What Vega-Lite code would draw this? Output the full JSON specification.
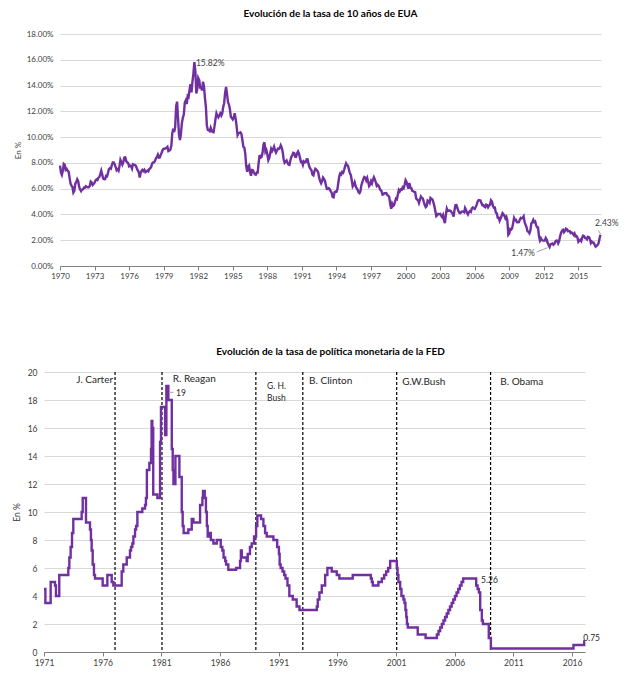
{
  "$schema": "https://vega.github.io/schema/vega-lite/v6.json",
  "padding": {"left": 12, "top": 9, "right": 5, "bottom": 5},
  "config": {"font": "Lato", "view": {"stroke": null}},
  "columns": 1,
  "spacing": 67,
  "datasets": {
    "t10": [
{"d":"1970-01","v":7.79},{"d":"1970-02","v":7.24},{"d":"1970-03","v":7.07},{"d":"1970-04","v":7.39},{"d":"1970-05","v":7.91},{"d":"1970-06","v":7.84},{"d":"1970-07","v":7.46},{"d":"1970-08","v":7.53},{"d":"1970-09","v":7.39},{"d":"1970-10","v":7.33},{"d":"1970-11","v":6.84},{"d":"1970-12","v":6.39},
{"d":"1971-01","v":6.24},{"d":"1971-02","v":6.11},{"d":"1971-03","v":5.70},{"d":"1971-04","v":5.83},{"d":"1971-05","v":6.39},{"d":"1971-06","v":6.52},{"d":"1971-07","v":6.73},{"d":"1971-08","v":6.58},{"d":"1971-09","v":6.14},{"d":"1971-10","v":5.93},{"d":"1971-11","v":5.81},{"d":"1971-12","v":5.93},
{"d":"1972-01","v":5.95},{"d":"1972-02","v":6.08},{"d":"1972-03","v":6.07},{"d":"1972-04","v":6.19},{"d":"1972-05","v":6.13},{"d":"1972-06","v":6.11},{"d":"1972-07","v":6.11},{"d":"1972-08","v":6.21},{"d":"1972-09","v":6.55},{"d":"1972-10","v":6.48},{"d":"1972-11","v":6.28},{"d":"1972-12","v":6.36},
{"d":"1973-01","v":6.46},{"d":"1973-02","v":6.64},{"d":"1973-03","v":6.71},{"d":"1973-04","v":6.67},{"d":"1973-05","v":6.85},{"d":"1973-06","v":6.90},{"d":"1973-07","v":7.13},{"d":"1973-08","v":7.40},{"d":"1973-09","v":7.09},{"d":"1973-10","v":6.79},{"d":"1973-11","v":6.73},{"d":"1973-12","v":6.74},
{"d":"1974-01","v":6.99},{"d":"1974-02","v":6.96},{"d":"1974-03","v":7.21},{"d":"1974-04","v":7.51},{"d":"1974-05","v":7.58},{"d":"1974-06","v":7.54},{"d":"1974-07","v":7.81},{"d":"1974-08","v":8.04},{"d":"1974-09","v":8.04},{"d":"1974-10","v":7.90},{"d":"1974-11","v":7.68},{"d":"1974-12","v":7.43},
{"d":"1975-01","v":7.50},{"d":"1975-02","v":7.39},{"d":"1975-03","v":7.73},{"d":"1975-04","v":8.23},{"d":"1975-05","v":8.06},{"d":"1975-06","v":7.86},{"d":"1975-07","v":8.06},{"d":"1975-08","v":8.40},{"d":"1975-09","v":8.43},{"d":"1975-10","v":8.14},{"d":"1975-11","v":8.05},{"d":"1975-12","v":8.00},
{"d":"1976-01","v":7.74},{"d":"1976-02","v":7.79},{"d":"1976-03","v":7.73},{"d":"1976-04","v":7.56},{"d":"1976-05","v":7.90},{"d":"1976-06","v":7.86},{"d":"1976-07","v":7.83},{"d":"1976-08","v":7.77},{"d":"1976-09","v":7.59},{"d":"1976-10","v":7.41},{"d":"1976-11","v":7.29},{"d":"1976-12","v":6.87},
{"d":"1977-01","v":7.21},{"d":"1977-02","v":7.39},{"d":"1977-03","v":7.46},{"d":"1977-04","v":7.37},{"d":"1977-05","v":7.46},{"d":"1977-06","v":7.28},{"d":"1977-07","v":7.33},{"d":"1977-08","v":7.40},{"d":"1977-09","v":7.34},{"d":"1977-10","v":7.52},{"d":"1977-11","v":7.58},{"d":"1977-12","v":7.69},
{"d":"1978-01","v":7.96},{"d":"1978-02","v":8.03},{"d":"1978-03","v":8.04},{"d":"1978-04","v":8.15},{"d":"1978-05","v":8.35},{"d":"1978-06","v":8.46},{"d":"1978-07","v":8.64},{"d":"1978-08","v":8.41},{"d":"1978-09","v":8.42},{"d":"1978-10","v":8.64},{"d":"1978-11","v":8.81},{"d":"1978-12","v":9.01},
{"d":"1979-01","v":9.10},{"d":"1979-02","v":9.10},{"d":"1979-03","v":9.12},{"d":"1979-04","v":9.18},{"d":"1979-05","v":9.25},{"d":"1979-06","v":8.91},{"d":"1979-07","v":8.95},{"d":"1979-08","v":9.03},{"d":"1979-09","v":9.33},{"d":"1979-10","v":10.30},{"d":"1979-11","v":10.65},{"d":"1979-12","v":10.39},
{"d":"1980-01","v":10.80},{"d":"1980-02","v":12.41},{"d":"1980-03","v":12.75},{"d":"1980-04","v":11.47},{"d":"1980-05","v":10.18},{"d":"1980-06","v":9.78},{"d":"1980-07","v":10.25},{"d":"1980-08","v":11.10},{"d":"1980-09","v":11.51},{"d":"1980-10","v":11.75},{"d":"1980-11","v":12.68},{"d":"1980-12","v":12.84},
{"d":"1981-01","v":12.57},{"d":"1981-02","v":13.19},{"d":"1981-03","v":13.12},{"d":"1981-04","v":13.68},{"d":"1981-05","v":14.10},{"d":"1981-06","v":13.47},{"d":"1981-07","v":14.28},{"d":"1981-08","v":14.94},{"d":"1981-09","v":15.82},{"d":"1981-10","v":15.15},{"d":"1981-11","v":13.39},{"d":"1981-12","v":13.72},
{"d":"1982-01","v":14.59},{"d":"1982-02","v":14.43},{"d":"1982-03","v":13.86},{"d":"1982-04","v":13.87},{"d":"1982-05","v":13.62},{"d":"1982-06","v":14.30},{"d":"1982-07","v":13.95},{"d":"1982-08","v":13.06},{"d":"1982-09","v":12.34},{"d":"1982-10","v":10.91},{"d":"1982-11","v":10.55},{"d":"1982-12","v":10.54},
{"d":"1983-01","v":10.46},{"d":"1983-02","v":10.72},{"d":"1983-03","v":10.51},{"d":"1983-04","v":10.40},{"d":"1983-05","v":10.38},{"d":"1983-06","v":10.85},{"d":"1983-07","v":11.38},{"d":"1983-08","v":11.85},{"d":"1983-09","v":11.65},{"d":"1983-10","v":11.54},{"d":"1983-11","v":11.69},{"d":"1983-12","v":11.83},
{"d":"1984-01","v":11.67},{"d":"1984-02","v":11.84},{"d":"1984-03","v":12.32},{"d":"1984-04","v":12.63},{"d":"1984-05","v":13.41},{"d":"1984-06","v":13.90},{"d":"1984-07","v":13.36},{"d":"1984-08","v":12.72},{"d":"1984-09","v":12.52},{"d":"1984-10","v":12.16},{"d":"1984-11","v":11.57},{"d":"1984-12","v":11.50},
{"d":"1985-01","v":11.38},{"d":"1985-02","v":11.51},{"d":"1985-03","v":11.86},{"d":"1985-04","v":11.43},{"d":"1985-05","v":10.85},{"d":"1985-06","v":10.16},{"d":"1985-07","v":10.31},{"d":"1985-08","v":10.33},{"d":"1985-09","v":10.37},{"d":"1985-10","v":10.24},{"d":"1985-11","v":9.78},{"d":"1985-12","v":9.26},
{"d":"1986-01","v":9.19},{"d":"1986-02","v":8.70},{"d":"1986-03","v":7.78},{"d":"1986-04","v":7.30},{"d":"1986-05","v":7.71},{"d":"1986-06","v":7.80},{"d":"1986-07","v":7.30},{"d":"1986-08","v":7.00},{"d":"1986-09","v":7.45},{"d":"1986-10","v":7.43},{"d":"1986-11","v":7.25},{"d":"1986-12","v":7.11},
{"d":"1987-01","v":7.08},{"d":"1987-02","v":7.25},{"d":"1987-03","v":7.25},{"d":"1987-04","v":8.02},{"d":"1987-05","v":8.61},{"d":"1987-06","v":8.40},{"d":"1987-07","v":8.45},{"d":"1987-08","v":8.76},{"d":"1987-09","v":9.42},{"d":"1987-10","v":9.60},{"d":"1987-11","v":8.86},{"d":"1987-12","v":8.99},
{"d":"1988-01","v":8.67},{"d":"1988-02","v":8.21},{"d":"1988-03","v":8.37},{"d":"1988-04","v":8.72},{"d":"1988-05","v":9.09},{"d":"1988-06","v":8.92},{"d":"1988-07","v":9.06},{"d":"1988-08","v":9.26},{"d":"1988-09","v":8.98},{"d":"1988-10","v":8.80},{"d":"1988-11","v":8.96},{"d":"1988-12","v":9.11},
{"d":"1989-01","v":9.09},{"d":"1989-02","v":9.17},{"d":"1989-03","v":9.36},{"d":"1989-04","v":9.18},{"d":"1989-05","v":8.86},{"d":"1989-06","v":8.28},{"d":"1989-07","v":8.02},{"d":"1989-08","v":8.11},{"d":"1989-09","v":8.19},{"d":"1989-10","v":8.01},{"d":"1989-11","v":7.87},{"d":"1989-12","v":7.84},
{"d":"1990-01","v":8.21},{"d":"1990-02","v":8.47},{"d":"1990-03","v":8.59},{"d":"1990-04","v":8.79},{"d":"1990-05","v":8.76},{"d":"1990-06","v":8.48},{"d":"1990-07","v":8.47},{"d":"1990-08","v":8.75},{"d":"1990-09","v":8.89},{"d":"1990-10","v":8.72},{"d":"1990-11","v":8.39},{"d":"1990-12","v":8.08},
{"d":"1991-01","v":8.09},{"d":"1991-02","v":7.85},{"d":"1991-03","v":8.11},{"d":"1991-04","v":8.04},{"d":"1991-05","v":8.07},{"d":"1991-06","v":8.28},{"d":"1991-07","v":8.27},{"d":"1991-08","v":7.90},{"d":"1991-09","v":7.65},{"d":"1991-10","v":7.53},{"d":"1991-11","v":7.42},{"d":"1991-12","v":7.09},
{"d":"1992-01","v":7.03},{"d":"1992-02","v":7.34},{"d":"1992-03","v":7.54},{"d":"1992-04","v":7.48},{"d":"1992-05","v":7.39},{"d":"1992-06","v":7.26},{"d":"1992-07","v":6.84},{"d":"1992-08","v":6.59},{"d":"1992-09","v":6.42},{"d":"1992-10","v":6.59},{"d":"1992-11","v":6.87},{"d":"1992-12","v":6.77},
{"d":"1993-01","v":6.60},{"d":"1993-02","v":6.26},{"d":"1993-03","v":5.98},{"d":"1993-04","v":5.97},{"d":"1993-05","v":6.04},{"d":"1993-06","v":5.96},{"d":"1993-07","v":5.81},{"d":"1993-08","v":5.68},{"d":"1993-09","v":5.36},{"d":"1993-10","v":5.33},{"d":"1993-11","v":5.72},{"d":"1993-12","v":5.77},
{"d":"1994-01","v":5.75},{"d":"1994-02","v":5.97},{"d":"1994-03","v":6.48},{"d":"1994-04","v":6.97},{"d":"1994-05","v":7.18},{"d":"1994-06","v":7.10},{"d":"1994-07","v":7.30},{"d":"1994-08","v":7.24},{"d":"1994-09","v":7.46},{"d":"1994-10","v":7.74},{"d":"1994-11","v":7.96},{"d":"1994-12","v":7.81},
{"d":"1995-01","v":7.78},{"d":"1995-02","v":7.47},{"d":"1995-03","v":7.20},{"d":"1995-04","v":7.06},{"d":"1995-05","v":6.63},{"d":"1995-06","v":6.17},{"d":"1995-07","v":6.28},{"d":"1995-08","v":6.49},{"d":"1995-09","v":6.20},{"d":"1995-10","v":6.04},{"d":"1995-11","v":5.93},{"d":"1995-12","v":5.71},
{"d":"1996-01","v":5.65},{"d":"1996-02","v":5.81},{"d":"1996-03","v":6.27},{"d":"1996-04","v":6.51},{"d":"1996-05","v":6.74},{"d":"1996-06","v":6.91},{"d":"1996-07","v":6.87},{"d":"1996-08","v":6.64},{"d":"1996-09","v":6.83},{"d":"1996-10","v":6.53},{"d":"1996-11","v":6.20},{"d":"1996-12","v":6.30},
{"d":"1997-01","v":6.58},{"d":"1997-02","v":6.42},{"d":"1997-03","v":6.69},{"d":"1997-04","v":6.89},{"d":"1997-05","v":6.71},{"d":"1997-06","v":6.49},{"d":"1997-07","v":6.22},{"d":"1997-08","v":6.30},{"d":"1997-09","v":6.21},{"d":"1997-10","v":6.03},{"d":"1997-11","v":5.88},{"d":"1997-12","v":5.81},
{"d":"1998-01","v":5.54},{"d":"1998-02","v":5.57},{"d":"1998-03","v":5.65},{"d":"1998-04","v":5.64},{"d":"1998-05","v":5.65},{"d":"1998-06","v":5.50},{"d":"1998-07","v":5.46},{"d":"1998-08","v":5.34},{"d":"1998-09","v":4.81},{"d":"1998-10","v":4.45},{"d":"1998-11","v":4.83},{"d":"1998-12","v":4.65},
{"d":"1999-01","v":4.72},{"d":"1999-02","v":5.00},{"d":"1999-03","v":5.23},{"d":"1999-04","v":5.18},{"d":"1999-05","v":5.54},{"d":"1999-06","v":5.90},{"d":"1999-07","v":5.79},{"d":"1999-08","v":5.94},{"d":"1999-09","v":5.92},{"d":"1999-10","v":6.11},{"d":"1999-11","v":6.03},{"d":"1999-12","v":6.28},
{"d":"2000-01","v":6.66},{"d":"2000-02","v":6.52},{"d":"2000-03","v":6.26},{"d":"2000-04","v":5.99},{"d":"2000-05","v":6.44},{"d":"2000-06","v":6.10},{"d":"2000-07","v":6.05},{"d":"2000-08","v":5.83},{"d":"2000-09","v":5.80},{"d":"2000-10","v":5.74},{"d":"2000-11","v":5.72},{"d":"2000-12","v":5.24},
{"d":"2001-01","v":5.16},{"d":"2001-02","v":5.10},{"d":"2001-03","v":4.89},{"d":"2001-04","v":5.14},{"d":"2001-05","v":5.39},{"d":"2001-06","v":5.28},{"d":"2001-07","v":5.24},{"d":"2001-08","v":4.97},{"d":"2001-09","v":4.73},{"d":"2001-10","v":4.57},{"d":"2001-11","v":4.65},{"d":"2001-12","v":5.09},
{"d":"2002-01","v":5.04},{"d":"2002-02","v":4.91},{"d":"2002-03","v":5.28},{"d":"2002-04","v":5.21},{"d":"2002-05","v":5.16},{"d":"2002-06","v":4.93},{"d":"2002-07","v":4.65},{"d":"2002-08","v":4.26},{"d":"2002-09","v":3.87},{"d":"2002-10","v":3.94},{"d":"2002-11","v":4.05},{"d":"2002-12","v":4.03},
{"d":"2003-01","v":4.05},{"d":"2003-02","v":3.90},{"d":"2003-03","v":3.81},{"d":"2003-04","v":3.96},{"d":"2003-05","v":3.57},{"d":"2003-06","v":3.33},{"d":"2003-07","v":3.98},{"d":"2003-08","v":4.45},{"d":"2003-09","v":4.27},{"d":"2003-10","v":4.29},{"d":"2003-11","v":4.30},{"d":"2003-12","v":4.27},
{"d":"2004-01","v":4.15},{"d":"2004-02","v":4.08},{"d":"2004-03","v":3.83},{"d":"2004-04","v":4.35},{"d":"2004-05","v":4.72},{"d":"2004-06","v":4.73},{"d":"2004-07","v":4.50},{"d":"2004-08","v":4.28},{"d":"2004-09","v":4.13},{"d":"2004-10","v":4.10},{"d":"2004-11","v":4.19},{"d":"2004-12","v":4.23},
{"d":"2005-01","v":4.22},{"d":"2005-02","v":4.17},{"d":"2005-03","v":4.50},{"d":"2005-04","v":4.34},{"d":"2005-05","v":4.14},{"d":"2005-06","v":4.00},{"d":"2005-07","v":4.18},{"d":"2005-08","v":4.26},{"d":"2005-09","v":4.20},{"d":"2005-10","v":4.46},{"d":"2005-11","v":4.54},{"d":"2005-12","v":4.47},
{"d":"2006-01","v":4.42},{"d":"2006-02","v":4.57},{"d":"2006-03","v":4.72},{"d":"2006-04","v":4.99},{"d":"2006-05","v":5.11},{"d":"2006-06","v":5.11},{"d":"2006-07","v":5.09},{"d":"2006-08","v":4.88},{"d":"2006-09","v":4.72},{"d":"2006-10","v":4.73},{"d":"2006-11","v":4.60},{"d":"2006-12","v":4.56},
{"d":"2007-01","v":4.76},{"d":"2007-02","v":4.72},{"d":"2007-03","v":4.56},{"d":"2007-04","v":4.69},{"d":"2007-05","v":4.75},{"d":"2007-06","v":5.10},{"d":"2007-07","v":5.00},{"d":"2007-08","v":4.67},{"d":"2007-09","v":4.52},{"d":"2007-10","v":4.53},{"d":"2007-11","v":4.15},{"d":"2007-12","v":4.10},
{"d":"2008-01","v":3.74},{"d":"2008-02","v":3.74},{"d":"2008-03","v":3.51},{"d":"2008-04","v":3.68},{"d":"2008-05","v":3.88},{"d":"2008-06","v":4.10},{"d":"2008-07","v":4.01},{"d":"2008-08","v":3.89},{"d":"2008-09","v":3.69},{"d":"2008-10","v":3.81},{"d":"2008-11","v":3.53},{"d":"2008-12","v":2.42},
{"d":"2009-01","v":2.52},{"d":"2009-02","v":2.87},{"d":"2009-03","v":2.82},{"d":"2009-04","v":2.93},{"d":"2009-05","v":3.29},{"d":"2009-06","v":3.72},{"d":"2009-07","v":3.56},{"d":"2009-08","v":3.59},{"d":"2009-09","v":3.40},{"d":"2009-10","v":3.39},{"d":"2009-11","v":3.40},{"d":"2009-12","v":3.59},
{"d":"2010-01","v":3.73},{"d":"2010-02","v":3.69},{"d":"2010-03","v":3.73},{"d":"2010-04","v":3.85},{"d":"2010-05","v":3.42},{"d":"2010-06","v":3.20},{"d":"2010-07","v":3.01},{"d":"2010-08","v":2.70},{"d":"2010-09","v":2.65},{"d":"2010-10","v":2.54},{"d":"2010-11","v":2.76},{"d":"2010-12","v":3.29},
{"d":"2011-01","v":3.39},{"d":"2011-02","v":3.58},{"d":"2011-03","v":3.41},{"d":"2011-04","v":3.46},{"d":"2011-05","v":3.17},{"d":"2011-06","v":3.00},{"d":"2011-07","v":3.00},{"d":"2011-08","v":2.30},{"d":"2011-09","v":1.98},{"d":"2011-10","v":2.15},{"d":"2011-11","v":2.01},{"d":"2011-12","v":1.98},
{"d":"2012-01","v":1.97},{"d":"2012-02","v":1.97},{"d":"2012-03","v":2.17},{"d":"2012-04","v":2.05},{"d":"2012-05","v":1.80},{"d":"2012-06","v":1.62},{"d":"2012-07","v":1.47},{"d":"2012-08","v":1.68},{"d":"2012-09","v":1.72},{"d":"2012-10","v":1.75},{"d":"2012-11","v":1.65},{"d":"2012-12","v":1.72},
{"d":"2013-01","v":1.91},{"d":"2013-02","v":1.98},{"d":"2013-03","v":1.96},{"d":"2013-04","v":1.76},{"d":"2013-05","v":1.93},{"d":"2013-06","v":2.30},{"d":"2013-07","v":2.58},{"d":"2013-08","v":2.74},{"d":"2013-09","v":2.81},{"d":"2013-10","v":2.62},{"d":"2013-11","v":2.72},{"d":"2013-12","v":2.90},
{"d":"2014-01","v":2.86},{"d":"2014-02","v":2.71},{"d":"2014-03","v":2.72},{"d":"2014-04","v":2.71},{"d":"2014-05","v":2.56},{"d":"2014-06","v":2.60},{"d":"2014-07","v":2.54},{"d":"2014-08","v":2.42},{"d":"2014-09","v":2.53},{"d":"2014-10","v":2.30},{"d":"2014-11","v":2.33},{"d":"2014-12","v":2.21},
{"d":"2015-01","v":1.88},{"d":"2015-02","v":1.98},{"d":"2015-03","v":2.04},{"d":"2015-04","v":1.94},{"d":"2015-05","v":2.20},{"d":"2015-06","v":2.36},{"d":"2015-07","v":2.32},{"d":"2015-08","v":2.17},{"d":"2015-09","v":2.17},{"d":"2015-10","v":2.07},{"d":"2015-11","v":2.26},{"d":"2015-12","v":2.24},
{"d":"2016-01","v":2.09},{"d":"2016-02","v":1.78},{"d":"2016-03","v":1.89},{"d":"2016-04","v":1.81},{"d":"2016-05","v":1.81},{"d":"2016-06","v":1.64},{"d":"2016-07","v":1.50},{"d":"2016-08","v":1.56},{"d":"2016-09","v":1.63},{"d":"2016-10","v":1.76},{"d":"2016-11","v":2.14},{"d":"2016-12","v":2.43}
    ],
    "fed": [
{"d":"1971-01-01","v":4.5},{"d":"1971-02-13","v":3.5},{"d":"1971-07-27","v":5.0},{"d":"1971-12-09","v":4.75},{"d":"1972-01-08","v":4.0},{"d":"1972-04-20","v":5.5},
{"d":"1973-01-27","v":6.0},{"d":"1973-02-27","v":6.75},{"d":"1973-04-09","v":7.5},{"d":"1973-05-22","v":8.5},{"d":"1973-07-01","v":9.5},{"d":"1974-03-18","v":10.0},{"d":"1974-04-20","v":11.0},{"d":"1974-07-31","v":9.25},{"d":"1974-12-02","v":8.75},
{"d":"1975-01-01","v":8.0},{"d":"1975-01-23","v":7.25},{"d":"1975-02-24","v":6.25},{"d":"1975-04-05","v":5.5},{"d":"1975-05-08","v":5.25},{"d":"1976-01-01","v":4.75},{"d":"1976-05-26","v":5.5},{"d":"1976-10-08","v":5.0},{"d":"1976-11-28","v":4.75},
{"d":"1977-08-15","v":5.75},{"d":"1977-10-04","v":6.25},{"d":"1978-01-19","v":6.75},{"d":"1978-04-30","v":7.25},{"d":"1978-06-02","v":7.5},{"d":"1978-07-12","v":7.75},{"d":"1978-08-14","v":8.25},{"d":"1978-10-04","v":8.75},{"d":"1978-11-06","v":9.0},{"d":"1978-12-16","v":10.0},
{"d":"1979-05-19","v":10.25},{"d":"1979-08-11","v":10.5},{"d":"1979-09-09","v":11.0},{"d":"1979-10-08","v":13.0},{"d":"1979-12-24","v":13.5},{"d":"1980-02-14","v":14.5},{"d":"1980-03-03","v":16.5},{"d":"1980-03-25","v":15.0},{"d":"1980-04-09","v":16.0},{"d":"1980-04-23","v":11.25},{"d":"1980-08-29","v":11.0},{"d":"1980-11-21","v":15.0},{"d":"1980-12-20","v":17.5},
{"d":"1981-04-27","v":15.5},{"d":"1981-06-06","v":19.0},{"d":"1981-08-07","v":18.0},{"d":"1981-11-21","v":14.5},{"d":"1981-12-20","v":13.0},{"d":"1982-01-12","v":12.0},{"d":"1982-03-14","v":14.0},{"d":"1982-07-16","v":12.5},{"d":"1982-09-27","v":10.0},{"d":"1982-10-26","v":9.0},{"d":"1982-11-25","v":8.5},
{"d":"1983-04-20","v":8.75},{"d":"1983-08-04","v":9.5},{"d":"1983-09-27","v":9.25},{"d":"1984-04-20","v":10.5},{"d":"1984-07-01","v":11.0},{"d":"1984-07-20","v":11.5},{"d":"1984-09-12","v":11.0},{"d":"1984-10-19","v":10.0},{"d":"1984-11-17","v":9.0},{"d":"1984-12-13","v":8.25},
{"d":"1985-02-06","v":8.5},{"d":"1985-03-21","v":8.0},{"d":"1985-06-10","v":7.75},{"d":"1985-09-20","v":8.0},{"d":"1986-01-23","v":7.5},{"d":"1986-03-14","v":7.25},{"d":"1986-04-20","v":6.75},{"d":"1986-06-10","v":6.5},{"d":"1986-07-09","v":6.25},{"d":"1986-09-16","v":5.875},
{"d":"1987-05-15","v":6.0},{"d":"1987-09-16","v":6.5},{"d":"1987-10-12","v":7.25},{"d":"1987-11-10","v":6.75},{"d":"1988-04-09","v":6.5},{"d":"1988-05-11","v":7.0},{"d":"1988-07-20","v":7.5},{"d":"1988-09-12","v":7.75},{"d":"1988-11-25","v":8.25},{"d":"1989-01-27","v":9.0},{"d":"1989-03-07","v":9.75},
{"d":"1989-07-01","v":9.5},{"d":"1989-09-12","v":9.0},{"d":"1989-11-03","v":8.5},{"d":"1989-12-24","v":8.25},{"d":"1990-07-20","v":8.0},{"d":"1990-11-14","v":7.5},{"d":"1991-01-08","v":7.0},{"d":"1991-01-30","v":6.25},{"d":"1991-03-03","v":6.0},{"d":"1991-04-30","v":5.75},{"d":"1991-06-21","v":5.5},{"d":"1991-07-31","v":5.25},{"d":"1991-10-01","v":4.75},{"d":"1991-11-28","v":4.0},
{"d":"1992-03-14","v":3.75},{"d":"1992-07-12","v":3.25},{"d":"1992-10-08","v":3.0},{"d":"1994-04-01","v":3.25},{"d":"1994-04-30","v":3.75},{"d":"1994-06-21","v":4.25},{"d":"1994-09-02","v":4.75},{"d":"1994-12-16","v":5.5},{"d":"1995-02-24","v":6.0},{"d":"1995-07-09","v":5.75},{"d":"1995-12-13","v":5.5},{"d":"1996-03-03","v":5.25},
{"d":"1997-04-23","v":5.5},{"d":"1998-11-06","v":5.25},{"d":"1998-12-09","v":5.0},{"d":"1999-01-08","v":4.75},{"d":"1999-07-01","v":5.0},{"d":"1999-10-15","v":5.25},{"d":"1999-12-27","v":5.5},{"d":"2000-02-27","v":5.75},{"d":"2000-04-30","v":6.0},{"d":"2000-07-01","v":6.5},
{"d":"2001-01-23","v":6.0},{"d":"2001-02-16","v":5.5},{"d":"2001-03-14","v":5.0},{"d":"2001-05-08","v":4.5},{"d":"2001-06-17","v":4.0},{"d":"2001-08-18","v":3.75},{"d":"2001-09-20","v":3.5},{"d":"2001-10-19","v":3.0},{"d":"2001-11-14","v":2.5},{"d":"2001-12-05","v":2.0},{"d":"2002-01-01","v":1.75},
{"d":"2002-11-06","v":1.25},{"d":"2003-07-09","v":1.0},{"d":"2004-06-24","v":1.25},{"d":"2004-08-14","v":1.5},{"d":"2004-10-04","v":1.75},{"d":"2004-11-25","v":2.0},{"d":"2005-01-15","v":2.25},{"d":"2005-03-07","v":2.5},{"d":"2005-04-27","v":2.75},{"d":"2005-06-17","v":3.0},{"d":"2005-08-07","v":3.25},{"d":"2005-09-27","v":3.5},{"d":"2005-11-17","v":3.75},{"d":"2006-01-08","v":4.0},{"d":"2006-02-27","v":4.25},{"d":"2006-04-20","v":4.5},{"d":"2006-06-10","v":4.75},{"d":"2006-07-31","v":5.0},{"d":"2006-09-20","v":5.25},
{"d":"2007-10-30","v":4.75},{"d":"2007-12-13","v":4.5},{"d":"2008-01-23","v":4.25},{"d":"2008-03-03","v":3.0},{"d":"2008-04-23","v":2.25},{"d":"2008-05-26","v":2.0},{"d":"2008-11-25","v":1.0},{"d":"2009-01-30","v":0.25},{"d":"2016-02-13","v":0.5},{"d":"2017-01-12","v":0.75},{"d":"2017-02-06","v":0.75}
    ]
  },
  "concat": [
    {
      "width": 541,
      "height": 232,
      "title": {"text": "Evolución de la tasa de 10 años de EUA", "fontSize": 10, "fontWeight": "bold", "color": "#000000", "offset": 11},
      "layer": [
        {
          "data": {"name": "t10"},
          "mark": {"type": "line", "color": "#7030A0", "strokeWidth": 2.4},
          "encoding": {
            "x": {"field": "d", "type": "temporal",
              "scale": {"type": "utc", "domain": [{"year": 1970, "month": 1, "date": 1, "utc": true}, {"year": 2016, "month": 12, "date": 18, "utc": true}]},
              "axis": {"title": null, "format": "%Y", "grid": false, "tickCount": 40, "labelOverlap": false, "labelFlush": false, "labelFontSize": 8, "labelColor": "#404040", "domainColor": "#808080", "tickColor": "#808080", "tickSize": 4, "labelPadding": 2,
                "values": [{"year":1970,"utc":true},{"year":1973,"utc":true},{"year":1976,"utc":true},{"year":1979,"utc":true},{"year":1982,"utc":true},{"year":1985,"utc":true},{"year":1988,"utc":true},{"year":1991,"utc":true},{"year":1994,"utc":true},{"year":1997,"utc":true},{"year":2000,"utc":true},{"year":2003,"utc":true},{"year":2006,"utc":true},{"year":2009,"utc":true},{"year":2012,"utc":true},{"year":2015,"utc":true}]}},
            "y": {"field": "v", "type": "quantitative",
              "scale": {"domain": [0, 18]},
              "axis": {"title": "En %", "titleFontSize": 8, "titleFontWeight": "normal", "titleColor": "#404040", "titlePadding": 4,
                "values": [0, 2, 4, 6, 8, 10, 12, 14, 16, 18], "tickCount": 40, "labelOverlap": false, "labelExpr": "format(datum.value, '.2f') + '%'",
                "labelFontSize": 8, "labelColor": "#404040", "domain": false, "ticks": false, "labelPadding": 7, "gridColor": "#d9d9d9", "gridWidth": 1}}
          }
        },
        {
          "data": {"values": [{"d": "1981-10-20", "v": 15.75, "t": "15.82%"}, {"d": "2016-06-10", "v": 3.33, "t": "2.43%"}]},
          "mark": {"type": "text", "align": "left", "baseline": "middle", "fontSize": 8.5, "color": "#404040"},
          "encoding": {"x": {"field": "d", "type": "temporal"}, "y": {"field": "v", "type": "quantitative"}, "text": {"field": "t"}}
        },
        {
          "data": {"values": [{"d": "2011-03-25", "v": 1.0, "t": "1.47%"}]},
          "mark": {"type": "text", "align": "right", "baseline": "middle", "fontSize": 8.5, "color": "#404040"},
          "encoding": {"x": {"field": "d", "type": "temporal"}, "y": {"field": "v", "type": "quantitative"}, "text": {"field": "t"}}
        },
        {
          "data": {"values": [{"d": "2011-05-20", "v": 1.09, "d2": "2012-05-01", "v2": 1.42}, {"d": "2016-09-25", "v": 2.77, "d2": "2016-12-05", "v2": 2.47}]},
          "mark": {"type": "rule", "color": "#a6a6a6", "strokeWidth": 1},
          "encoding": {"x": {"field": "d", "type": "temporal"}, "y": {"field": "v", "type": "quantitative"}, "x2": {"field": "d2"}, "y2": {"field": "v2"}}
        }
      ]
    },
    {
      "width": 541,
      "height": 280,
      "title": {"text": "Evolución de la tasa de política monetaria de la FED", "fontSize": 10, "fontWeight": "bold", "color": "#000000", "offset": 11},
      "layer": [
        {
          "data": {"values": [{"d": "1977-01-20"}, {"d": "1981-01-20"}, {"d": "1989-01-20"}, {"d": "1993-01-20"}, {"d": "2001-01-20"}, {"d": "2009-01-20"}]},
          "mark": {"type": "rule", "color": "#000000", "strokeWidth": 1.2, "strokeDash": [3, 2]},
          "encoding": {"x": {"field": "d", "type": "temporal"}}
        },
        {
          "data": {"name": "fed"},
          "mark": {"type": "line", "color": "#7030A0", "strokeWidth": 2.4, "interpolate": "step-after"},
          "encoding": {
            "x": {"field": "d", "type": "temporal",
              "scale": {"type": "utc", "range": [-16, 525], "domain": [{"year": 1971, "month": 1, "date": 1, "utc": true}, {"year": 2017, "month": 2, "date": 6, "utc": true}]},
              "axis": {"title": null, "format": "%Y", "grid": false, "tickCount": 40, "labelOverlap": false, "labelFlush": false, "labelFontSize": 8.5, "labelColor": "#404040", "domainColor": "#808080", "tickColor": "#808080", "tickSize": 4, "labelPadding": 2,
                "values": [{"year":1971,"utc":true},{"year":1976,"utc":true},{"year":1981,"utc":true},{"year":1986,"utc":true},{"year":1991,"utc":true},{"year":1996,"utc":true},{"year":2001,"utc":true},{"year":2006,"utc":true},{"year":2011,"utc":true},{"year":2016,"utc":true}]}},
            "y": {"field": "v", "type": "quantitative",
              "scale": {"domain": [0, 20]},
              "axis": {"title": "En %", "titleFontSize": 8.5, "titleFontWeight": "normal", "titleColor": "#404040", "titlePadding": 6, "offset": 16,
                "values": [0, 2, 4, 6, 8, 10, 12, 14, 16, 18, 20], "tickCount": 40, "labelOverlap": false, "format": "d",
                "labelFontSize": 8.5, "labelColor": "#404040", "domain": false, "ticks": false, "labelPadding": 7, "gridColor": "#d9d9d9", "gridWidth": 1}}
          }
        },
        {
          "data": {"values": [{"d": "1976-11-20", "v": 19.43, "t": "J. Carter"}]},
          "mark": {"type": "text", "align": "right", "baseline": "middle", "fontSize": 10, "color": "#262626"},
          "encoding": {"x": {"field": "d", "type": "temporal"}, "y": {"field": "v", "type": "quantitative"}, "text": {"field": "t"}}
        },
        {
          "data": {"values": [{"d": "1981-12-20", "v": 19.5, "t": "R. Reagan"}, {"d": "1993-08-04", "v": 19.36, "t": "B. Clinton"}, {"d": "2001-07-09", "v": 19.29, "t": "G.W.Bush"}, {"d": "2009-11-17", "v": 19.29, "t": "B. Obama"}]},
          "mark": {"type": "text", "align": "left", "baseline": "middle", "fontSize": 10, "color": "#262626"},
          "encoding": {"x": {"field": "d", "type": "temporal"}, "y": {"field": "v", "type": "quantitative"}, "text": {"field": "t"}}
        },
        {
          "data": {"values": [{"d": "1990-01-05", "v": 19.0, "t": "G. H."}, {"d": "1990-01-05", "v": 18.14, "t": "Bush"}]},
          "mark": {"type": "text", "align": "left", "baseline": "middle", "fontSize": 8.5, "color": "#262626"},
          "encoding": {"x": {"field": "d", "type": "temporal"}, "y": {"field": "v", "type": "quantitative"}, "text": {"field": "t"}}
        },
        {
          "data": {"values": [{"d": "1982-04-01", "v": 18.5, "t": "19"}, {"d": "2008-04-01", "v": 5.14, "t": "5.26"}, {"d": "2016-12-13", "v": 1.0, "t": "0.75"}]},
          "mark": {"type": "text", "align": "left", "baseline": "middle", "fontSize": 8.5, "color": "#262626"},
          "encoding": {"x": {"field": "d", "type": "temporal"}, "y": {"field": "v", "type": "quantitative"}, "text": {"field": "t"}}
        },
        {
          "data": {"values": [{"d": "1981-09-05", "v": 18.55, "d2": "1982-01-15", "v2": 18.55}]},
          "mark": {"type": "rule", "color": "#a6a6a6", "strokeWidth": 1},
          "encoding": {"x": {"field": "d", "type": "temporal"}, "y": {"field": "v", "type": "quantitative"}, "x2": {"field": "d2"}, "y2": {"field": "v2"}}
        }
      ]
    }
  ]
}
